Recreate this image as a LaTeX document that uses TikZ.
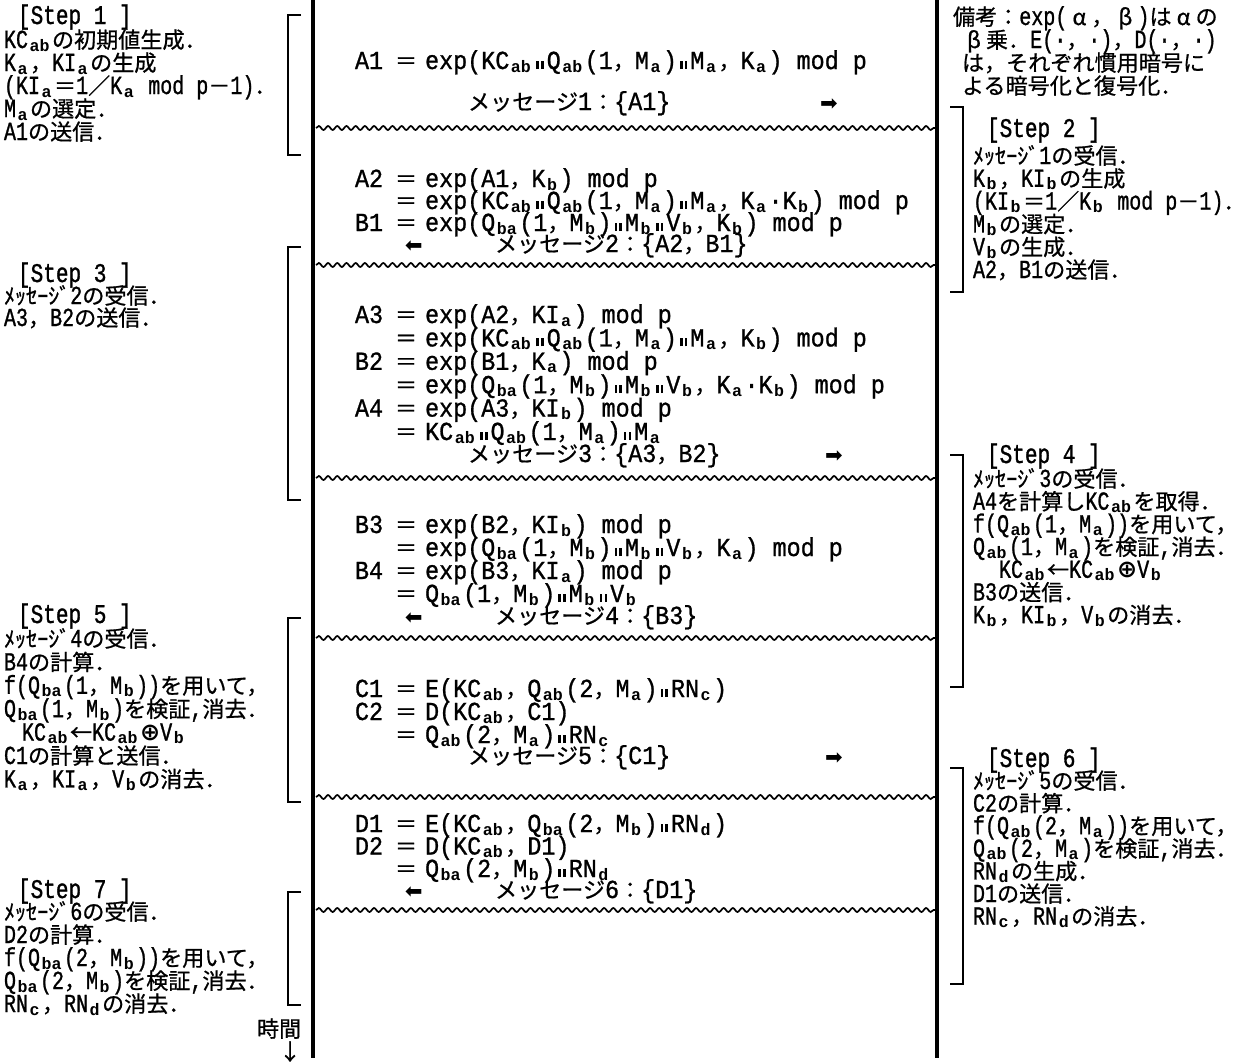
\documentclass[tikz,border=0pt]{standalone}
\usepackage{fontspec}
\usepackage{graphicx}
\usetikzlibrary{decorations.pathmorphing}
\newfontfamily\latf[FakeStretch=0.77,FakeBold=1]{Liberation Mono}
\newfontfamily\latc[FakeStretch=0.9,FakeBold=1]{Liberation Mono}
\newfontfamily\cjkf[Scale=0.85,CharacterWidth=Full,FakeBold=0.8]{Noto Sans CJK JP}
\newfontfamily\subf[Scale=0.64]{Liberation Mono}
\newfontfamily\headf[FakeStretch=0.78,FakeBold=1.2]{Liberation Mono}
\newfontfamily\djv{DejaVu Sans}
\newcount\clscnt
\chardef\cjkcls=7
\def\setclsrange#1#2#3{\clscnt=#2\relax
  \loop\XeTeXcharclass\clscnt=#1\relax
  \ifnum\clscnt<#3\relax\advance\clscnt by 1\repeat}
\setclsrange{0}{"21}{"7E}
\setclsrange{\cjkcls}{"3000}{"30FF}
\setclsrange{\cjkcls}{"4E00}{"9FFF}
\setclsrange{\cjkcls}{"FF00}{"FFEF}
\XeTeXcharclass"2190=\cjkcls
\XeTeXcharclass"2193=\cjkcls
\XeTeXcharclass"03B1=\cjkcls
\XeTeXcharclass"03B2=\cjkcls
\newcommand\mylat{\latf}
\XeTeXinterchartoks 0 \cjkcls = {\cjkf}
\XeTeXinterchartoks \cjkcls 0 = {\mylat}
\XeTeXinterchartoks 4095 \cjkcls = {\cjkf}
\XeTeXinterchartoks 4095 0 = {\mylat}
\newcommand\txtfont{\fontsize{13}{11.5}\selectfont\latf\XeTeXinterchartokenstate=1\relax}
\newcommand\txtfontc{\fontsize{13}{11.5}\selectfont\def\mylat{\latc}\latc\XeTeXinterchartokenstate=1\relax}
\newcommand\sbs[1]{{\XeTeXinterchartokenstate=0\subf\bfseries\hspace{0.8pt}\raisebox{-1.5pt}{#1}\hspace{1.2pt}}}
\newcommand\dbar{\hspace{1.5pt}\rule{1.3pt}{4pt}\hspace{1.1pt}\rule{1.3pt}{4pt}\hspace{1.5pt}}
\newcommand\opl{{\XeTeXinterchartokenstate=0\djv\bfseries\fontsize{12}{12}\selectfont ⊕}}
\newcommand\fw[1]{\makebox[12pt][c]{#1}}
\newcommand\blk[5]{\foreach \lnx [count=\k] in {#5} {\node[tx] (#1-\k) at (#2,{#3+(\k-1)*#4}) {\lnx};}}
\newcommand\lhs[3]{\node[txc] (#1) at (355,#2) {#3};}
\newcommand\rhs[3]{\node[txc] (#1) at (395,#2) {＝\hspace{4pt}#3};}
\tikzset{
  tx/.style={anchor=base west, inner sep=0pt, outer sep=0pt, text height=8.5pt, text depth=2pt, font=\txtfont},
  txc/.style={tx, font=\txtfontc},
  hd/.style={anchor=base west, inner sep=0pt, outer sep=0pt, text height=8.5pt, text depth=2pt, font={\headf\fontsize{13.5}{13.5}\selectfont}},
  ar/.style={anchor=base west, inner sep=0pt, outer sep=0pt, text height=7pt, text depth=0pt, font={\djv\fontsize{10.5}{10.5}\selectfont}},
  life/.style={line width=1.6pt},
  brk/.style={line width=1pt},
  wave/.style={line width=0.85pt, decorate, decoration={snake, segment length=4.6pt, amplitude=1pt}}
}
\begin{document}
\begin{tikzpicture}[x=0.5pt, y=-0.5pt]
\useasboundingbox (0,0) rectangle (1258,1061);
% lifelines
\coordinate (LT) at (313,0); \coordinate (LB) at (313,1058);
\coordinate (RT) at (937,0); \coordinate (RB) at (937,1058);
\draw[life] (LT) -- (LB);
\draw[life] (RT) -- (RB);
% wavy separators
\foreach \wy [count=\i] in {128,265,478,638,797,910} {
  \coordinate (w\i a) at (316,\wy); \coordinate (w\i b) at (935,\wy);
  \draw[wave] (w\i a) -- (w\i b);
}
% left brackets
\foreach \ta/\tb [count=\i] in {15/155,247/500,618/802,892/1005} {
  \coordinate (lb\i t) at (301,\ta); \coordinate (lb\i b) at (301,\tb);
  \draw[brk] (lb\i t) -- ++(-13,0) |- (lb\i b);
}
% right brackets
\foreach \ta/\tb [count=\i] in {107/292,455/687,768/984} {
  \coordinate (rb\i t) at (950,\ta); \coordinate (rb\i b) at (950,\tb);
  \draw[brk] (rb\i t) -- ++(13,0) |- (rb\i b);
}
% ---------- left column ----------
\node[hd] (h1) at (18,24) {[Step~1~]};
\blk{s1}{4}{48}{23}{{KC\sbs{ab}の初期値生成．},{K\sbs{a}，KI\sbs{a}の生成},{(KI\sbs{a}＝1／K\sbs{a} mod p－1)．},{M\sbs{a}の選定．},{A1の送信．}}
\node[hd] (h3) at (18,282) {[Step~3~]};
\blk{s3}{4}{304}{22}{{ﾒｯｾｰｼﾞ2の受信．},{A3，B2の送信．}}
\node[hd] (h5) at (18,623) {[Step~5~]};
\blk{s5}{4}{647}{23.4}{{ﾒｯｾｰｼﾞ4の受信．},{B4の計算．},{f(Q\sbs{ba}(1，M\sbs{b}))を用いて，},{Q\sbs{ba}(1，M\sbs{b})を検証,消去．},{\hspace*{9pt}KC\sbs{ab}←KC\sbs{ab}\opl V\sbs{b}},{C1の計算と送信．},{K\sbs{a}，KI\sbs{a}，V\sbs{b}の消去．}}
\node[hd] (h7) at (18,898) {[Step~7~]};
\blk{s7}{4}{920}{23}{{ﾒｯｾｰｼﾞ6の受信．},{D2の計算．},{f(Q\sbs{ba}(2，M\sbs{b}))を用いて，},{Q\sbs{ba}(2，M\sbs{b})を検証,消去．},{RN\sbs{c}，RN\sbs{d}の消去．}}
\node[tx] (time) at (257,1037) {時間};
\node[tx] (tarr) at (279,1060) {↓};
% ---------- right column ----------
\node[tx] (n0) at (953,25) {備考：exp(\fw{α}，\fw{β})は\fw{α}の};
\blk{n}{962}{48}{23}{{\fw{β}乗．E(·，·)，D(·，·)},{は，それぞれ慣用暗号に},{よる暗号化と復号化．}}
\node[hd] (h2) at (987,137) {[Step~2~]};
\blk{s2}{973}{164}{22.8}{{ﾒｯｾｰｼﾞ1の受信．},{K\sbs{b}，KI\sbs{b}の生成},{(KI\sbs{b}＝1／K\sbs{b} mod p－1)．},{M\sbs{b}の選定．},{V\sbs{b}の生成．},{A2，B1の送信．}}
\node[hd] (h4) at (987,463) {[Step~4~]};
\blk{s4}{973}{487}{22.7}{{ﾒｯｾｰｼﾞ3の受信．},{A4を計算しKC\sbs{ab}を取得．},{f(Q\sbs{ab}(1，M\sbs{a}))を用いて，},{Q\sbs{ab}(1，M\sbs{a})を検証,消去．},{\hspace*{13pt}KC\sbs{ab}←KC\sbs{ab}\opl V\sbs{b}},{B3の送信．},{K\sbs{b}，KI\sbs{b}，V\sbs{b}の消去．}}
\node[hd] (h6) at (987,767) {[Step~6~]};
\blk{s6}{973}{789}{22.6}{{ﾒｯｾｰｼﾞ5の受信．},{C2の計算．},{f(Q\sbs{ab}(2，M\sbs{a}))を用いて，},{Q\sbs{ab}(2，M\sbs{a})を検証,消去．},{RN\sbs{d}の生成．},{D1の送信．},{RN\sbs{c}，RN\sbs{d}の消去．}}
% ---------- centre ----------
\lhs{A1l}{69}{A1}
\rhs{A1r}{69}{exp(KC\sbs{ab}\dbar Q\sbs{ab}(1，M\sbs{a})\dbar M\sbs{a}，K\sbs{a}) mod p}
\node[txc] (m1) at (468,110) {メッセージ1：\{A1\}};
\node[ar] (r1) at (820,110) {➡};
\lhs{A2l}{187}{A2}
\rhs{A2r}{187}{exp(A1，K\sbs{b}) mod p}
\rhs{A2c}{209}{exp(KC\sbs{ab}\dbar Q\sbs{ab}(1，M\sbs{a})\dbar M\sbs{a}，K\sbs{a}·K\sbs{b}) mod p}
\lhs{B1l}{231}{B1}
\rhs{B1r}{231}{exp(Q\sbs{ba}(1，M\sbs{b})\dbar M\sbs{b}\dbar V\sbs{b}，K\sbs{b}) mod p}
\node[ar] (r2) at (405,252) {\reflectbox{➡}};
\node[txc] (m2) at (495,252) {メッセージ2：\{A2，B1\}};
\lhs{A3l}{323}{A3}
\rhs{A3r}{323}{exp(A2，KI\sbs{a}) mod p}
\rhs{A3c}{346.4}{exp(KC\sbs{ab}\dbar Q\sbs{ab}(1，M\sbs{a})\dbar M\sbs{a}，K\sbs{b}) mod p}
\lhs{B2l}{369.8}{B2}
\rhs{B2r}{369.8}{exp(B1，K\sbs{a}) mod p}
\rhs{B2c}{393.2}{exp(Q\sbs{ba}(1，M\sbs{b})\dbar M\sbs{b}\dbar V\sbs{b}，K\sbs{a}·K\sbs{b}) mod p}
\lhs{A4l}{416.6}{A4}
\rhs{A4r}{416.6}{exp(A3，KI\sbs{b}) mod p}
\rhs{A4c}{440}{KC\sbs{ab}\dbar Q\sbs{ab}(1，M\sbs{a})\dbar M\sbs{a}}
\node[txc] (m3) at (468,462) {メッセージ3：\{A3，B2\}};
\node[ar] (r3) at (825,462) {➡};
\lhs{B3l}{533}{B3}
\rhs{B3r}{533}{exp(B2，KI\sbs{b}) mod p}
\rhs{B3c}{556}{exp(Q\sbs{ba}(1，M\sbs{b})\dbar M\sbs{b}\dbar V\sbs{b}，K\sbs{a}) mod p}
\lhs{B4l}{579}{B4}
\rhs{B4r}{579}{exp(B3，KI\sbs{a}) mod p}
\rhs{B4c}{602}{Q\sbs{ba}(1，M\sbs{b})\dbar M\sbs{b}\dbar V\sbs{b}}
\node[ar] (r4) at (405,624) {\reflectbox{➡}};
\node[txc] (m4) at (495,624) {メッセージ4：\{B3\}};
\lhs{C1l}{697}{C1}
\rhs{C1r}{697}{E(KC\sbs{ab}，Q\sbs{ab}(2，M\sbs{a})\dbar RN\sbs{c})}
\lhs{C2l}{720}{C2}
\rhs{C2r}{720}{D(KC\sbs{ab}，C1)}
\rhs{C2c}{743}{Q\sbs{ab}(2，M\sbs{a})\dbar RN\sbs{c}}
\node[txc] (m5) at (468,764) {メッセージ5：\{C1\}};
\node[ar] (r5) at (825,764) {➡};
\lhs{D1l}{832}{D1}
\rhs{D1r}{832}{E(KC\sbs{ab}，Q\sbs{ba}(2，M\sbs{b})\dbar RN\sbs{d})}
\lhs{D2l}{854.5}{D2}
\rhs{D2r}{854.5}{D(KC\sbs{ab}，D1)}
\rhs{D2c}{877}{Q\sbs{ba}(2，M\sbs{b})\dbar RN\sbs{d}}
\node[ar] (r6) at (405,898) {\reflectbox{➡}};
\node[txc] (m6) at (495,898) {メッセージ6：\{D1\}};
\end{tikzpicture}
\end{document}
